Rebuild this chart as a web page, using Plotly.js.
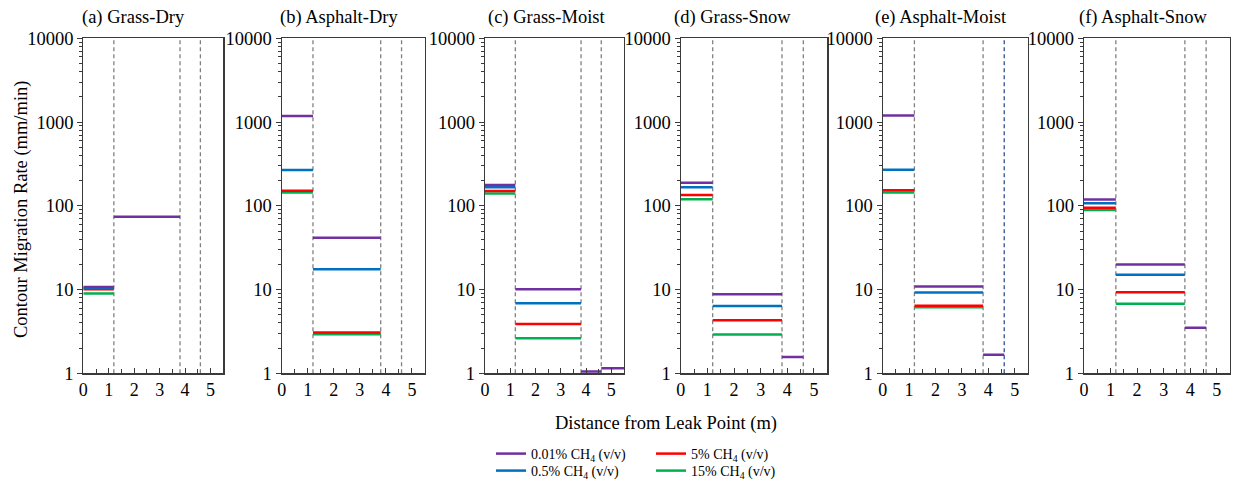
<!DOCTYPE html>
<html>
<head>
<meta charset="utf-8">
<script src="https://cdn.plot.ly/plotly-3.0.1.min.js"></script>
<style>html,body{margin:0;padding:0;background:#fff;}#chart{width:1236px;height:483px;}</style>
</head>
<body>
<div id="chart"></div>
<script>
// ---- data ----
const segEdges = [0, 1.2, 3.8, 4.6, 5.5];      // segment boundaries (m)
const boundaries = [1.2, 3.8, 4.6];            // dashed separators (m)
const panelTitles = ['(a) Grass-Dry', '(b) Asphalt-Dry', '(c) Grass-Moist', '(d) Grass-Snow', '(e) Asphalt-Moist', '(f) Asphalt-Snow'];
const seriesNames = ['0.01% CH<sub>4</sub> (v/v)', '0.5% CH<sub>4</sub> (v/v)', '5% CH<sub>4</sub> (v/v)', '15% CH<sub>4</sub> (v/v)'];
const xTickVals = [0, 1, 2, 3, 4, 5];
const yTickVals = [1, 10, 100, 1000, 10000];
const yTickText = ['1', '10', '100', '1000', '10000'];

// values per segment [0-1.2, 1.2-3.8, 3.8-4.6, 4.6-5.5]
const grassDry_001 = [10.7, 74, null, null];
const grassDry_05  = [10.4, null, null, null];
const grassDry_5   = [10.1, null, null, null];
const grassDry_15  = [9.0, null, null, null];

const asphaltDry_001 = [1180, 41.5, null, null];
const asphaltDry_05  = [268, 17.5, null, null];
const asphaltDry_5   = [151, 3.08, null, null];
const asphaltDry_15  = [144, 2.92, null, null];

const grassMoist_001 = [177, 10.1, 1.05, 1.15];
const grassMoist_05  = [166, 6.85, null, null];
const grassMoist_5   = [150, 3.88, null, null];
const grassMoist_15  = [140, 2.62, null, null];

const grassSnow_001 = [189, 8.8, 1.57, null];
const grassSnow_05  = [166, 6.37, null, null];
const grassSnow_5   = [135, 4.3, null, null];
const grassSnow_15  = [120, 2.9, null, null];

const asphaltMoist_001 = [1195, 10.9, 1.67, null];
const asphaltMoist_05  = [270, 9.2, null, null];
const asphaltMoist_5   = [153, 6.4, null, null];
const asphaltMoist_15  = [144, 6.15, null, null];

const asphaltSnow_001 = [119, 19.9, 3.5, null];
const asphaltSnow_05  = [107, 15, null, null];
const asphaltSnow_5   = [95, 9.3, null, null];
const asphaltSnow_15  = [89, 6.76, null, null];

const panelData = [
  [grassDry_001, grassDry_05, grassDry_5, grassDry_15],
  [asphaltDry_001, asphaltDry_05, asphaltDry_5, asphaltDry_15],
  [grassMoist_001, grassMoist_05, grassMoist_5, grassMoist_15],
  [grassSnow_001, grassSnow_05, grassSnow_5, grassSnow_15],
  [asphaltMoist_001, asphaltMoist_05, asphaltMoist_5, asphaltMoist_15],
  [asphaltSnow_001, asphaltSnow_05, asphaltSnow_5, asphaltSnow_15]
];

// ---- styles / layout ----
const W = 1236, H = 483;
const colors = ['#7030A0', '#0070C0', '#FF0000', '#00B050'];
const legendOf = ['legend', 'legend3', 'legend2', 'legend4'];
const legendPos = {legend: [491, 438], legend2: [651, 438], legend3: [491, 455], legend4: [651, 455]};
const drawOrder = [3, 2, 1, 0];
const xPx = [[83.3, 223.3], [281.7, 425], [485, 624], [680.7, 827.3], [882.7, 1028], [1084, 1230]];
const yPx = [38.3, 373.3];
const titleCx = [133, 339, 546, 732, 941, 1143];
const sepColors = [
  ['#808080', '#808080', '#808080'],
  ['#808080', '#808080', '#808080'],
  ['#808080', '#808080', '#808080'],
  ['#808080', '#808080', '#808080'],
  ['#808080', '#808080', '#2F4F8F'],
  ['#808080', '#808080', '#808080']
];
const FONT = 'Liberation Serif';
const frame = '#3a3a3a';

const traces = [];
panelData.forEach((series, p) => {
  const k = p + 1;
  drawOrder.forEach(s => {
    const vals = series[s];
    const xs = [], ys = [];
    vals.forEach((v, i) => {
      if (v === null) return;
      xs.push(segEdges[i], segEdges[i + 1], null);
      ys.push(v, v, null);
    });
    traces.push({
      type: 'scatter', mode: 'lines',
      x: xs, y: ys,
      xaxis: 'x' + k, yaxis: 'y' + k,
      line: {color: colors[s], width: 2.5},
      name: seriesNames[s],
      legend: legendOf[s],
      showlegend: p === 0,
      hoverinfo: 'skip'
    });
  });
});

const layout = {
  width: W, height: H,
  margin: {l: 0, r: 0, t: 0, b: 0, autoexpand: false},
  paper_bgcolor: '#ffffff', plot_bgcolor: '#ffffff',
  font: {family: FONT, color: '#000', size: 18},
  shapes: [], annotations: []
};
Object.keys(legendPos).forEach(key => {
  layout[key] = {
    x: legendPos[key][0] / W, xanchor: 'left',
    y: 1 - legendPos[key][1] / H, yanchor: 'top',
    orientation: 'v', font: {family: FONT, size: 14, color: '#000'},
    bgcolor: 'rgba(0,0,0,0)', borderwidth: 0, tracegroupgap: 0, itemwidth: 30
  };
});

for (let p = 0; p < 6; p++) {
  const k = p + 1;
  const xa = (k === 1) ? 'xaxis' : 'xaxis' + k;
  const ya = (k === 1) ? 'yaxis' : 'yaxis' + k;
  layout[xa] = {
    domain: [xPx[p][0] / W, xPx[p][1] / W],
    anchor: 'y' + k, range: [0, 5.5],
    tickmode: 'array', tickvals: xTickVals,
    ticks: 'inside', ticklen: 5, tickcolor: frame, tickwidth: 1,
    minor: {tickmode: 'linear', tick0: 0, dtick: 0.5, ticks: 'inside', ticklen: 4, tickcolor: frame},
    showline: true, mirror: true, linecolor: frame, linewidth: 1.2,
    showgrid: false, zeroline: false,
    tickfont: {family: FONT, size: 18, color: '#000'}
  };
  layout[ya] = {
    domain: [1 - yPx[1] / H, 1 - yPx[0] / H],
    anchor: 'x' + k, type: 'log', range: [0, 4],
    tickmode: 'array', tickvals: yTickVals, ticktext: yTickText,
    ticks: 'outside', ticklen: 5, tickcolor: frame, tickwidth: 1,
    minor: {dtick: 'D1', ticks: 'outside', ticklen: 3, tickcolor: frame},
    showline: true, mirror: true, linecolor: frame, linewidth: 1.2,
    showgrid: false, zeroline: false,
    tickfont: {family: FONT, size: 18.5, color: '#000'}
  };
  boundaries.forEach((b, j) => {
    layout.shapes.push({
      type: 'line', xref: 'x' + k, yref: 'y' + k + ' domain',
      x0: b, x1: b, y0: 0, y1: 1, layer: 'below',
      line: {color: sepColors[p][j], width: 1.3, dash: '4px,3px'}
    });
  });
  layout.annotations.push({
    text: panelTitles[p], xref: 'paper', yref: 'paper',
    x: titleCx[p] / W, y: 1 - 18 / H, xanchor: 'center', yanchor: 'middle',
    showarrow: false, font: {family: FONT, size: 18.5, color: '#000'}
  });
}

layout.annotations.push({
  text: 'Distance from Leak Point (m)', xref: 'paper', yref: 'paper',
  x: 666 / W, y: 1 - 423 / H, xanchor: 'center', yanchor: 'middle',
  showarrow: false, font: {family: FONT, size: 18.5, color: '#000'}
});
layout.annotations.push({
  text: 'Contour Migration Rate (mm/min)', xref: 'paper', yref: 'paper',
  x: 22 / W, y: 1 - 210 / H, xanchor: 'center', yanchor: 'middle', textangle: -90,
  showarrow: false, font: {family: FONT, size: 18.5, color: '#000'}
});

Plotly.newPlot('chart', traces, layout, {displayModeBar: false, staticPlot: true});
</script>
</body>
</html>
